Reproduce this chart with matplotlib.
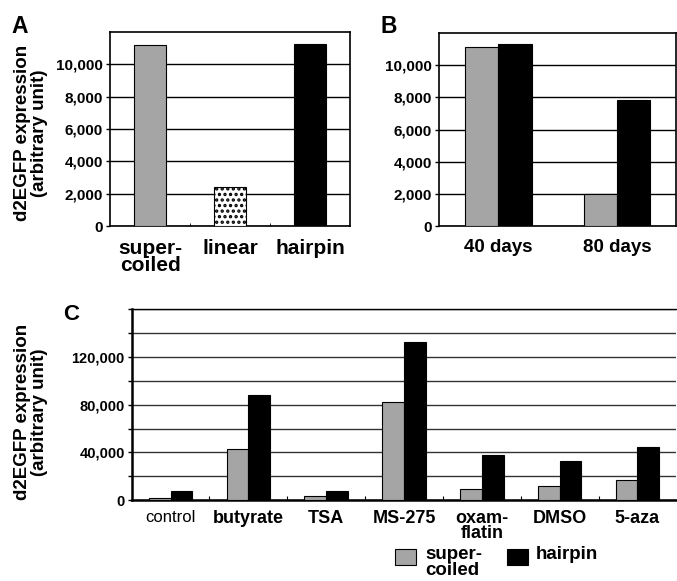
import numpy as np
import matplotlib
matplotlib.use("Agg")
import matplotlib.pyplot as plt
from matplotlib.patches import Rectangle
from matplotlib.ticker import FuncFormatter, MultipleLocator, FixedLocator

plt.rcParams['font.family'] = ['Liberation Sans', 'DejaVu Sans']
plt.rcParams['font.weight'] = 'bold'
plt.rcParams['hatch.linewidth'] = 1.6

# panel A: DNA form
a_labels = ['super-\ncoiled', 'linear', 'hairpin']
a_values = [11200, 2400, 11250]

# panel B: time course
b_labels = ['40 days', '80 days']
b_super = [11150, 2000]
b_hairpin = [11350, 7850]

# panel C: drug treatment
c_labels = ['control', 'butyrate', 'TSA', 'MS-275', 'oxam-\nflatin', 'DMSO', '5-aza']
c_super = [2000, 42500, 3000, 82000, 9500, 12000, 17000]
c_hairpin = [7800, 88500, 7300, 133000, 38000, 33000, 44800]

legend_labels = ['super-\ncoiled', 'hairpin']

GRAY = '#a5a5a5'
fmt = FuncFormatter(lambda v, p: f"{int(v):,}")

fig = plt.figure(figsize=(6.77, 5.81), dpi=100)

# ---- A ----
axA = fig.add_axes([0.1625, 0.611, 0.3545, 0.334])
xa = np.arange(len(a_labels))
axA.bar(xa[0], a_values[0], 0.4, color=GRAY, edgecolor='black', lw=0.8, zorder=3)
axA.bar(xa[1], a_values[1], 0.4, color='white', edgecolor='black', hatch='...', lw=0.8, zorder=3)
axA.bar(xa[2], a_values[2], 0.4, color='black', edgecolor='black', lw=0.8, zorder=3)
axA.set_xlim(-0.5, 2.5)
axA.set_ylim(0, 12000)
axA.set_yticks(np.arange(0, 10001, 2000))
axA.yaxis.set_major_formatter(fmt)
axA.set_xticks(xa)
axA.set_xticklabels(a_labels, fontsize=15, linespacing=0.9)
axA.tick_params(axis='x', length=0, pad=9)
axA.set_xticks([0.5, 1.5], minor=True)
axA.tick_params(axis='x', which='minor', direction='in', length=2, width=0.6)

# ---- B ----
axB = fig.add_axes([0.6485, 0.611, 0.3505, 0.332])
xb = np.arange(len(b_labels))
w = 0.28
axB.bar(xb - w / 2, b_super, w, color=GRAY, edgecolor='black', lw=0.8, zorder=3)
axB.bar(xb + w / 2, b_hairpin, w, color='black', edgecolor='black', lw=0.8, zorder=3)
axB.set_xlim(-0.5, 1.5)
axB.set_ylim(0, 12000)
axB.set_yticks(np.arange(0, 10001, 2000))
axB.yaxis.set_major_formatter(fmt)
axB.set_xticks(xb)
axB.set_xticklabels(b_labels, fontsize=13.5)
axB.tick_params(axis='x', length=0, pad=9)

for ax in (axA, axB):
    ax.yaxis.grid(True, color='black', lw=1.0, zorder=1)
    ax.tick_params(axis='y', labelsize=11, length=3, width=1, pad=2)
    for s in ax.spines.values():
        s.set_linewidth(1.2)

# ---- C ----
axC = fig.add_axes([0.1945, 0.1394, 0.8045, 0.3282])
xc = np.arange(len(c_labels))
axC.bar(xc - w / 2, c_super, w, color=GRAY, edgecolor='black', lw=0.8, zorder=3)
axC.bar(xc + w / 2, c_hairpin, w, color='black', edgecolor='black', lw=0.8, zorder=3)
axC.set_xlim(-0.5, len(c_labels) - 0.5)
axC.set_ylim(0, 160000)
axC.yaxis.set_major_locator(FixedLocator([0, 40000, 80000, 120000]))
axC.yaxis.set_minor_locator(MultipleLocator(20000))
axC.yaxis.set_major_formatter(fmt)
axC.yaxis.grid(True, which='both', color='#333333', lw=1.0, zorder=1)
axC.tick_params(axis='y', which='both', labelsize=10.5, length=3, width=1, pad=2)
axC.set_xticks(xc)
axC.set_xticklabels(c_labels, fontsize=13, linespacing=0.9, va='top')
axC.get_xticklabels()[0].set_fontweight('normal')
axC.get_xticklabels()[0].set_fontsize(12)
axC.tick_params(axis='x', length=0, pad=7)
axC.set_xticks(xc[:-1] + 0.5, minor=True)
axC.tick_params(axis='x', which='minor', direction='in', length=3, width=0.8)
axC.spines['right'].set_visible(False)
axC.spines['top'].set_linewidth(1.0)
axC.spines['left'].set_linewidth(1.8)
axC.spines['bottom'].set_linewidth(1.8)

# legend drawn below panel C
for (bx, tx), col, lab in zip([(395, 425), (507, 536)], [GRAY, 'black'], legend_labels):
    fig.add_artist(Rectangle((bx / 677, 1 - 565 / 581), 21 / 677, 16 / 581,
                             facecolor=col, edgecolor='black', lw=0.8,
                             transform=fig.transFigure))
    fig.text(tx / 677, 1 - 546 / 581, lab, ha='left', va='top', fontsize=13.5,
             linespacing=0.9)

# y labels and panel letters
ylab = 'd2EGFP expression\n(arbitrary unit)'
fig.text(31 / 677, 1 - 133 / 581, ylab, rotation=90, ha='center', va='center',
         fontsize=13.5, linespacing=0.95)
fig.text(31 / 677, 1 - 412 / 581, ylab, rotation=90, ha='center', va='center',
         fontsize=13.5, linespacing=0.95)
fig.text(11 / 677, 1 - 33 / 581, 'A', fontsize=16.5)
fig.text(381 / 677, 1 - 33 / 581, 'B', fontsize=16.5)
fig.text(63 / 677, 1 - 320 / 581, 'C', fontsize=16)

fig.savefig('out.png', dpi=100)
